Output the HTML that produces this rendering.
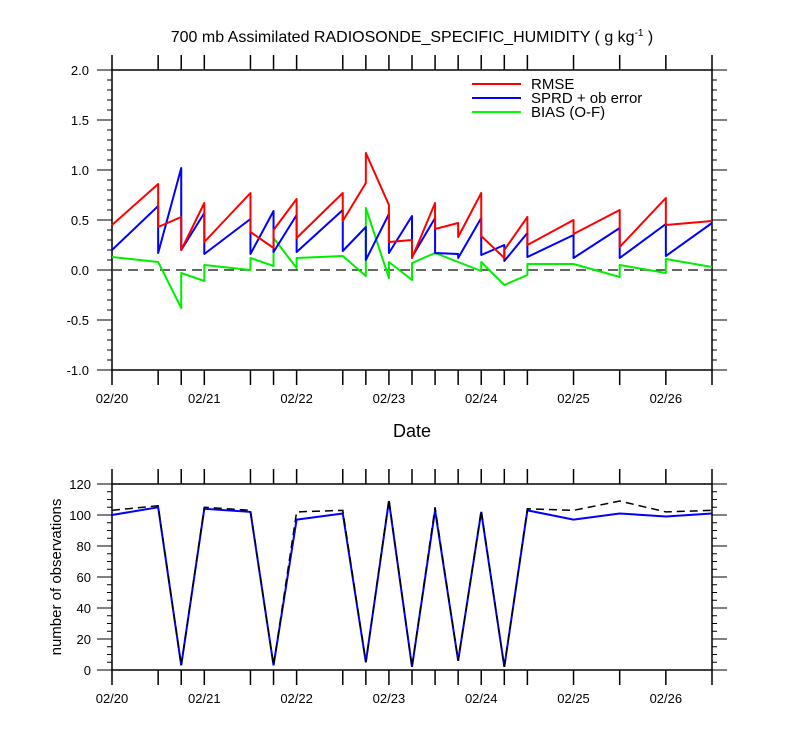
<!DOCTYPE html>
<html><head><meta charset="utf-8"><style>
body{margin:0;background:#fff}
svg text{font-family:"Liberation Sans",Arial,sans-serif;fill:#000}
</style></head><body>
<svg id="c" width="800" height="750" xmlns="http://www.w3.org/2000/svg">
<text x="412" y="42" font-size="16" text-anchor="middle">700 mb Assimilated RADIOSONDE_SPECIFIC_HUMIDITY ( g kg<tspan font-size="10" dy="-6">-1</tspan><tspan dy="6"> )</tspan></text>
<g id="gtop"></g>
<g id="gbot"></g>
<text x="412" y="437" font-size="18" text-anchor="middle">Date</text>
<text transform="translate(61,577) rotate(-90)" font-size="15" text-anchor="middle">number of observations</text>
<g>
<line x1="472" y1="84" x2="521" y2="84" stroke="#f00" stroke-width="2"/>
<text x="531" y="89" font-size="15">RMSE</text>
<line x1="472" y1="98" x2="521" y2="98" stroke="#00f" stroke-width="2"/>
<text x="531" y="103" font-size="15">SPRD + ob error</text>
<line x1="472" y1="112" x2="521" y2="112" stroke="#0f0" stroke-width="2"/>
<text x="531" y="117" font-size="15">BIAS (O-F)</text>
</g>
</svg>
<script>
const times=[0,0.5,0.75,1,1.5,1.75,2,2.5,2.75,3,3.25,3.5,3.75,4,4.25,4.5,5,5.5,6,6.5];
const dateLabels=["02/20","02/21","02/22","02/23","02/24","02/25","02/26"];
const rmseIn =[0.45,0.86,0.53,0.67,0.77,0.22,0.71,0.77,0.87,0.65,0.30,0.67,0.47,0.77,0.12,0.53,0.50,0.60,0.72,0.49];
const rmseOut=[0.45,0.43,0.20,0.28,0.38,0.40,0.32,0.49,1.17,0.28,0.12,0.41,0.33,0.34,0.20,0.25,0.36,0.23,0.45,0.49];
const sprdIn =[0.20,0.64,1.02,0.57,0.51,0.59,0.55,0.60,0.43,0.56,0.54,0.52,0.16,0.52,0.25,0.37,0.35,0.42,0.46,0.47];
const sprdOut=[0.20,0.17,0.20,0.16,0.16,0.18,0.18,0.19,0.10,0.17,0.13,0.17,0.12,0.15,0.09,0.13,0.12,0.12,0.14,0.47];
const biasIn =[0.13,0.08,-0.38,-0.11,0.00,0.04,0.02,0.14,-0.06,-0.08,-0.10,0.17,0.08,-0.01,-0.15,-0.05,0.06,-0.07,-0.03,0.03];
const biasOut=[0.13,0.08,-0.03,0.05,0.12,0.32,0.12,0.14,0.62,0.08,0.07,0.17,0.08,0.08,-0.15,0.06,0.06,0.05,0.11,0.03];
const obsUsed =[100,105,3,104,102,3,97,101,5,109,2,103,6,102,2,103,97,101,99,101];
const obsTotal=[103,106,3,105,103,3,102,103,5,110,2,105,6,103,2,104,103,109,102,103];
const topTicks=[2.0,1.5,1.0,0.5,0.0,-0.5,-1.0];
const botTicks=[0,20,40,60,80,100,120];

const NS="http://www.w3.org/2000/svg";
const X0=112,X1=712;
const xs=t=>X0+(X1-X0)*t/6.5;
const yTop=v=>70+(2-v)*100;
const yBot=v=>670-(v/120)*186;
function mk(tag,attrs,parent){const e=document.createElementNS(NS,tag);for(const k in attrs)e.setAttribute(k,attrs[k]);parent.appendChild(e);return e;}
const gTop=document.getElementById('gtop'),gBot=document.getElementById('gbot');

function frame(g,yT,yB,yf,ticks,minStep,minVal,maxVal,fmt,labX){
  const r=mk('rect',{x:X0,y:yT,width:X1-X0,height:yB-yT,fill:'none',stroke:'#000','stroke-width':1.5},g);
  
  
  times.forEach(t=>{
    const x=xs(t);
    const a=mk('line',{x1:x,x2:x,y1:yT-15,y2:yT,stroke:'#000','stroke-width':1.5},g);
    
    
    const b=mk('line',{x1:x,x2:x,y1:yB,y2:yB+15,stroke:'#000','stroke-width':1.5},g);
    
    
  });
  dateLabels.forEach((d,i)=>{
    const tx=mk('text',{x:xs(i),y:yB+33,'font-size':13,'text-anchor':'middle'},g);
    tx.textContent=d;
    
    
  });
  const n=Math.round((maxVal-minVal)/minStep);
  for(let i=0;i<=n;i++){
    const v=minVal+i*minStep;const y=yf(v);
    const major=ticks.some(t=>Math.abs(t-v)<1e-6);
    const L=major?15:5;
    const l=mk('line',{x1:X0-L,x2:X0,y1:y,y2:y,stroke:'#000','stroke-width':1},g);
    
    
    const rr=mk('line',{x1:X1,x2:X1+L,y1:y,y2:y,stroke:'#000','stroke-width':1},g);
    
    
  }
  ticks.forEach(v=>{
    const tx=mk('text',{x:labX,y:yf(v)+5,'font-size':13,'text-anchor':'end'},g);
    tx.textContent=fmt(v);
    
    
  });
}
frame(gTop,70,370,yTop,topTicks,0.1,-1,2,v=>v.toFixed(1),89);
frame(gBot,484,670,yBot,botTicks,5,0,120,v=>String(v),91);

const zl=mk('line',{x1:X0,x2:X1,y1:yTop(0),y2:yTop(0),stroke:'#333','stroke-width':1.5,'stroke-dasharray':'10 6'},gTop);



function saw(inA,outA,color,name){
  let d='';
  times.forEach((t,i)=>{
    const x=xs(t);
    d+=(i?'L':'M')+x+','+yTop(inA[i])+'L'+x+','+yTop(outA[i]);
  });
  const p=mk('path',{d:d,fill:'none',stroke:color,'stroke-width':2,'stroke-linejoin':'round'},gTop);
  
  
}
saw(biasIn,biasOut,'#00ee00','bias-line');
saw(sprdIn,sprdOut,'#0000ff','sprd-line');
saw(rmseIn,rmseOut,'#ff0000','rmse-line');

function line(arr,color,dash,w,name){
  const d=times.map((t,i)=>(i?'L':'M')+xs(t)+','+yBot(arr[i])).join('');
  const a={d:d,fill:'none',stroke:color,'stroke-width':w};
  if(dash)a['stroke-dasharray']=dash;
  const p=mk('path',a,gBot);
  
  
}
line(obsUsed,'#0000ff',null,2,'obs-used-line');
line(obsTotal,'#000','8 5',1.5,'obs-total-line');
</script>
</body></html>
